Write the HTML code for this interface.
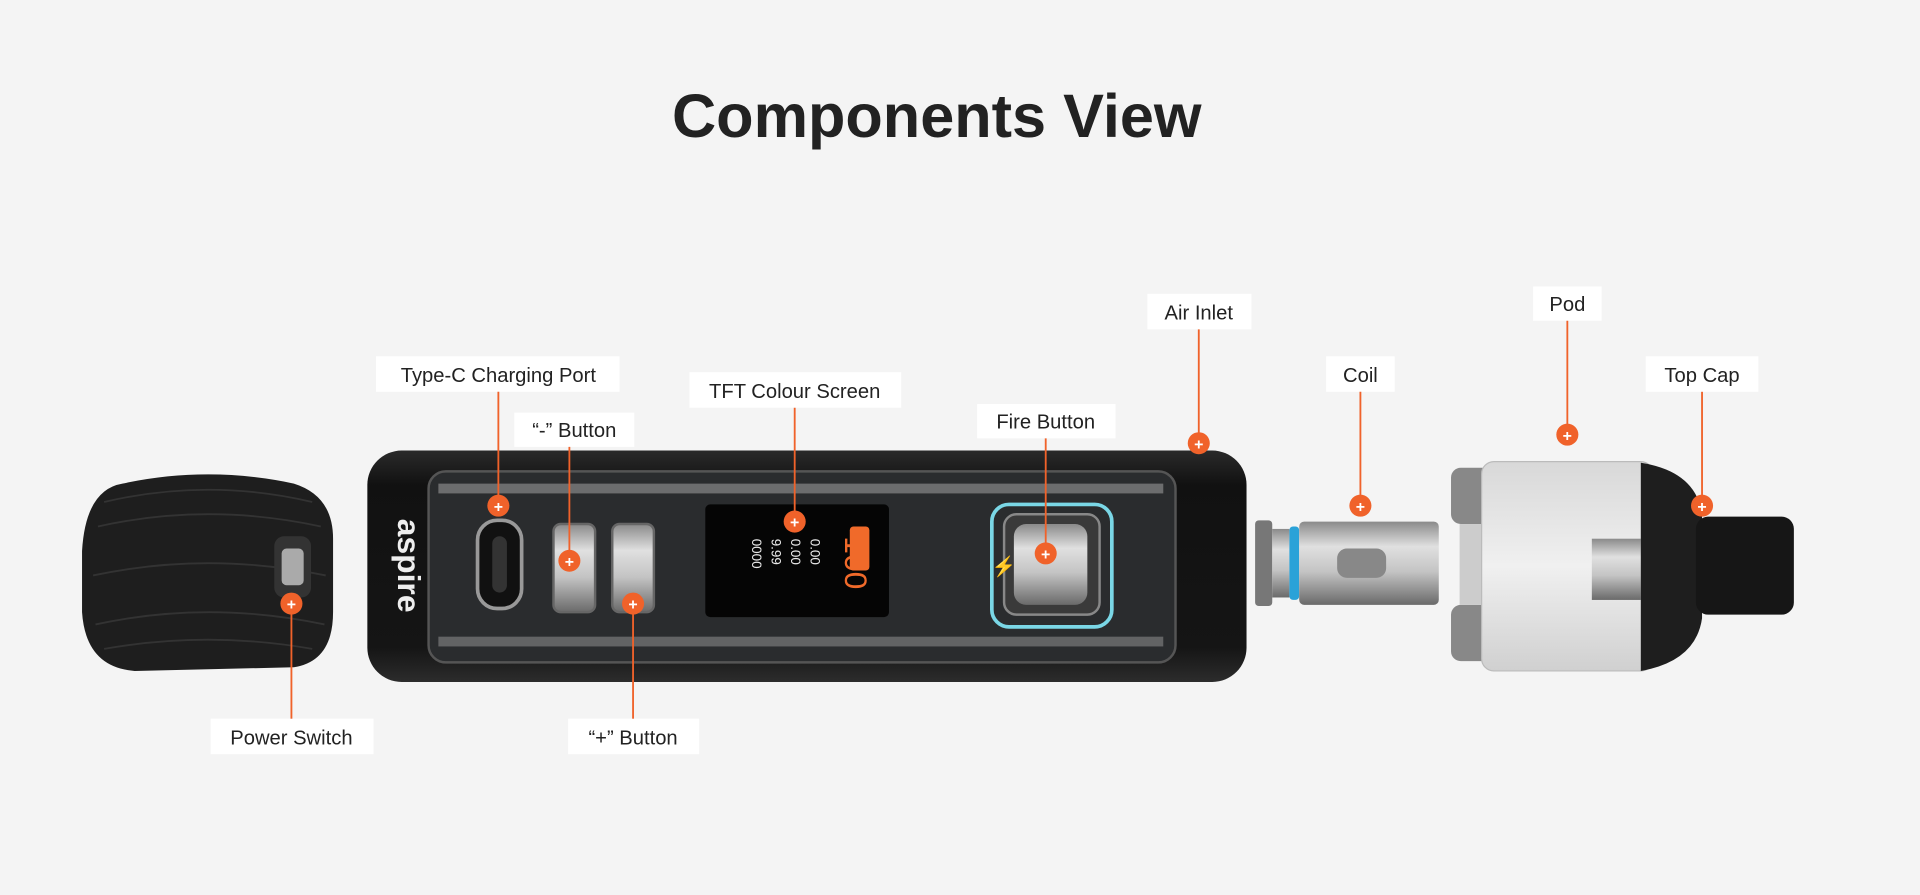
<!DOCTYPE html>
<html><head><meta charset="utf-8"><style>
html,body{margin:0;padding:0;background:#f4f4f4;width:1920px;height:895px;overflow:hidden}
svg{display:block}
text{font-family:"Liberation Sans",sans-serif}
</style></head><body>
<svg width="1920" height="895" viewBox="0 0 1568 731" preserveAspectRatio="none" xmlns="http://www.w3.org/2000/svg">
<defs>
<linearGradient id="body" x1="0" y1="0" x2="0" y2="1">
<stop offset="0" stop-color="#2a2a2a"/><stop offset="0.15" stop-color="#111"/><stop offset="0.85" stop-color="#151515"/><stop offset="1" stop-color="#2c2c2c"/></linearGradient>
<linearGradient id="metal" x1="0" y1="0" x2="0" y2="1">
<stop offset="0" stop-color="#8a8a8a"/><stop offset="0.3" stop-color="#e0e0e0"/><stop offset="0.6" stop-color="#c4c4c4"/><stop offset="1" stop-color="#6a6a6a"/></linearGradient>
<linearGradient id="glass" x1="0" y1="0" x2="0" y2="1">
<stop offset="0" stop-color="#d8d8d8"/><stop offset="0.5" stop-color="#f0f0f0"/><stop offset="1" stop-color="#d0d0d0"/></linearGradient>
</defs>
<rect width="1568" height="731" fill="#f4f4f4"/>
<text x="765" y="112" text-anchor="middle" font-size="50" font-weight="bold" fill="#222">Components View</text>

<!-- end cap -->
<path d="M100 395 Q170 380 240 395 Q272 405 272 440 L272 500 Q272 540 240 545 L110 548 Q70 545 67 500 L67 450 Q70 400 100 395 Z" fill="#1e1e1e"/>
<g stroke="#333" stroke-width="1.5" fill="none">
<path d="M85 410 Q170 390 255 410"/><path d="M80 430 Q170 410 262 430"/><path d="M76 470 Q170 450 266 470"/><path d="M78 510 Q170 490 265 510"/><path d="M85 530 Q170 515 255 530"/>
</g>
<rect x="224" y="438" width="30" height="50" rx="8" fill="#333"/>
<rect x="230" y="448" width="18" height="30" rx="4" fill="#aaa"/>

<!-- main body -->
<rect x="300" y="368" width="718" height="189" rx="28" fill="url(#body)"/>
<rect x="350" y="385" width="610" height="156" rx="14" fill="#2a2c2e" stroke="#555" stroke-width="2"/>
<rect x="358" y="395" width="592" height="8" fill="#9a9a9a" opacity="0.6"/>
<rect x="358" y="520" width="592" height="8" fill="#9a9a9a" opacity="0.5"/>
<text x="325" y="462" font-size="26" font-weight="bold" fill="#eee" transform="rotate(90 325 462)" text-anchor="middle">aspire</text>
<rect x="390" y="425" width="36" height="72" rx="16" fill="#111" stroke="#999" stroke-width="3"/>
<rect x="402" y="438" width="12" height="46" rx="6" fill="#333"/>
<rect x="452" y="428" width="34" height="72" rx="6" fill="url(#metal)" stroke="#666" stroke-width="2"/>
<rect x="500" y="428" width="34" height="72" rx="6" fill="url(#metal)" stroke="#666" stroke-width="2"/>
<rect x="576" y="412" width="150" height="92" rx="4" fill="#050505"/>
<text x="690" y="438" font-size="26" fill="#f06a2a" font-family="Liberation Mono" transform="rotate(90 690 438)">100</text>
<rect x="694" y="430" width="16" height="36" rx="3" fill="#f06a2a"/>
<g fill="#e8e8e8" font-size="11" font-family="Liberation Mono">
<text x="662" y="440" transform="rotate(90 662 440)">0.00</text>
<text x="646" y="440" transform="rotate(90 646 440)">0.00</text>
<text x="630" y="440" transform="rotate(90 630 440)">9.99</text>
<text x="614" y="440" transform="rotate(90 614 440)">0000</text>
</g>
<rect x="810" y="412" width="98" height="100" rx="14" fill="none" stroke="#7ad7e6" stroke-width="3"/>
<rect x="820" y="420" width="78" height="82" rx="10" fill="#3a3a3a" stroke="#888" stroke-width="2"/>
<rect x="828" y="428" width="60" height="66" rx="10" fill="url(#metal)"/>
<text x="810" y="468" font-size="16" fill="#ddd">⚡</text>

<!-- coil -->
<rect x="1025" y="425" width="14" height="70" rx="3" fill="#777"/>
<rect x="1039" y="432" width="14" height="56" fill="url(#metal)"/>
<rect x="1053" y="430" width="8" height="60" rx="3" fill="#2aa2d8"/>
<rect x="1061" y="426" width="114" height="68" rx="4" fill="url(#metal)"/>
<rect x="1092" y="448" width="40" height="24" rx="8" fill="#888"/>

<!-- pod -->
<rect x="1185" y="382" width="50" height="46" rx="8" fill="#888"/>
<rect x="1185" y="494" width="50" height="46" rx="8" fill="#888"/>
<rect x="1192" y="428" width="40" height="66" fill="#ccc"/>
<rect x="1210" y="377" width="140" height="171" rx="10" fill="url(#glass)" stroke="#bbb"/>
<rect x="1300" y="440" width="40" height="50" fill="url(#metal)"/>
<path d="M1340 378 Q1385 385 1390 420 L1390 505 Q1385 540 1340 548 Z" fill="#1e1e1e"/>
<rect x="1385" y="422" width="80" height="80" rx="10" fill="#161616"/>

<!-- labels -->
<g font-size="16.5" fill="#222" text-anchor="middle">
<rect x="307" y="291" width="199" height="29" fill="#fff"/><text x="407" y="312">Type-C Charging Port</text>
<rect x="420" y="337" width="98" height="28" fill="#fff"/><text x="469" y="357">“-” Button</text>
<rect x="563" y="304" width="173" height="29" fill="#fff"/><text x="649" y="325">TFT Colour Screen</text>
<rect x="798" y="330" width="113" height="28" fill="#fff"/><text x="854" y="350">Fire Button</text>
<rect x="937" y="240" width="85" height="29" fill="#fff"/><text x="979" y="261">Air Inlet</text>
<rect x="1083" y="291" width="56" height="29" fill="#fff"/><text x="1111" y="312">Coil</text>
<rect x="1252" y="234" width="56" height="28" fill="#fff"/><text x="1280" y="254">Pod</text>
<rect x="1344" y="291" width="92" height="29" fill="#fff"/><text x="1390" y="312">Top Cap</text>
<rect x="172" y="587" width="133" height="29" fill="#fff"/><text x="238" y="608">Power Switch</text>
<rect x="464" y="587" width="107" height="29" fill="#fff"/><text x="517" y="608">“+” Button</text>
</g>
<g stroke="#f0622a" stroke-width="1.5">
<line x1="407" y1="320" x2="407" y2="413"/>
<line x1="465" y1="365" x2="465" y2="458"/>
<line x1="649" y1="333" x2="649" y2="426"/>
<line x1="854" y1="358" x2="854" y2="452"/>
<line x1="979" y1="269" x2="979" y2="362"/>
<line x1="1111" y1="320" x2="1111" y2="413"/>
<line x1="1280" y1="262" x2="1280" y2="355"/>
<line x1="1390" y1="320" x2="1390" y2="413"/>
<line x1="238" y1="493" x2="238" y2="587"/>
<line x1="517" y1="493" x2="517" y2="587"/>
</g>
<g fill="#f0622a">
<circle cx="407" cy="413" r="9"/><circle cx="465" cy="458" r="9"/><circle cx="649" cy="426" r="9"/><circle cx="854" cy="452" r="9"/><circle cx="979" cy="362" r="9"/><circle cx="1111" cy="413" r="9"/><circle cx="1280" cy="355" r="9"/><circle cx="1390" cy="413" r="9"/><circle cx="238" cy="493" r="9"/><circle cx="517" cy="493" r="9"/>
</g>
<g fill="#fff" font-size="13" font-weight="bold" text-anchor="middle">
<text x="407" y="418">+</text><text x="465" y="463">+</text><text x="649" y="431">+</text><text x="854" y="457">+</text><text x="979" y="367">+</text><text x="1111" y="418">+</text><text x="1280" y="360">+</text><text x="1390" y="418">+</text><text x="238" y="498">+</text><text x="517" y="498">+</text>
</g>
</svg>
</body></html>
